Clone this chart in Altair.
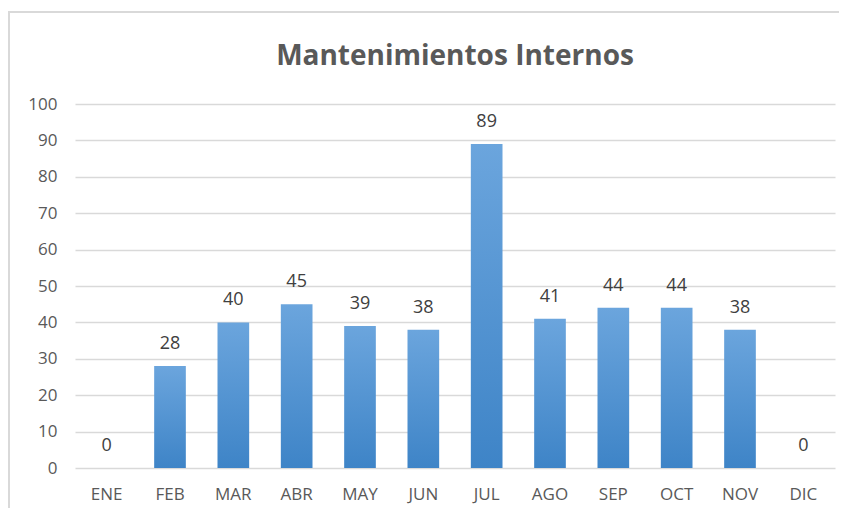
import altair as alt
import pandas as pd

meses = ["ENE", "FEB", "MAR", "ABR", "MAY", "JUN", "JUL", "AGO", "SEP", "OCT", "NOV", "DIC"]
valores = [0, 28, 40, 45, 39, 38, 89, 41, 44, 44, 38, 0]

df = pd.DataFrame({"mes": meses, "valor": valores})

FONT = "Open Sans"
GREY = "#595959"

x = alt.X("mes:N", sort=meses, title=None,
          scale=alt.Scale(paddingInner=0.5, paddingOuter=0.25),
          axis=alt.Axis(labelAngle=0, labelFont=FONT, labelFontSize=17, labelColor=GREY,
                        ticks=False, domain=False, labelPadding=18))
y = alt.Y("valor:Q", title=None,
          scale=alt.Scale(domain=[0, 100], nice=False),
          axis=alt.Axis(tickCount=10, labelOverlap=False,
                        labelFont=FONT, labelFontSize=17,
                        labelColor=GREY, ticks=False, domain=False, labelPadding=18,
                        gridColor="#d9d9d9", gridWidth=1.5))

grad = alt.Gradient(gradient="linear",
                    stops=[alt.GradientStop(color="#6ba5dd", offset=0),
                           alt.GradientStop(color="#3e84c7", offset=1)],
                    x1=0, x2=0, y1=0, y2=1)

bars = alt.Chart(df).mark_bar(fill=grad).encode(x=x, y=y)
labels = alt.Chart(df).mark_text(dy=-22, font=FONT, fontSize=18, color="#404040").encode(
    x=x, y=y, text="valor:Q")

border = alt.Chart(df).mark_rect(fill=None, stroke="#d9d9d9", strokeWidth=2, clip=False).encode(
    x=alt.value(-66), x2=alt.value(790), y=alt.value(-92), y2=alt.value(420))

chart = alt.layer(border, bars, labels).properties(
    width=760, height=364,
    padding={"left": 67, "top": 96, "right": 4, "bottom": 40},
    autosize=alt.AutoSizeParams(type="none"),
    title=alt.TitleParams("Mantenimientos Internos", font=FONT, fontSize=28, fontWeight="bold",
                          color=GREY, anchor="middle", offset=-60),
).configure_view(stroke=None)

chart.save("out.html", embed_options={"renderer": "svg", "actions": False})
